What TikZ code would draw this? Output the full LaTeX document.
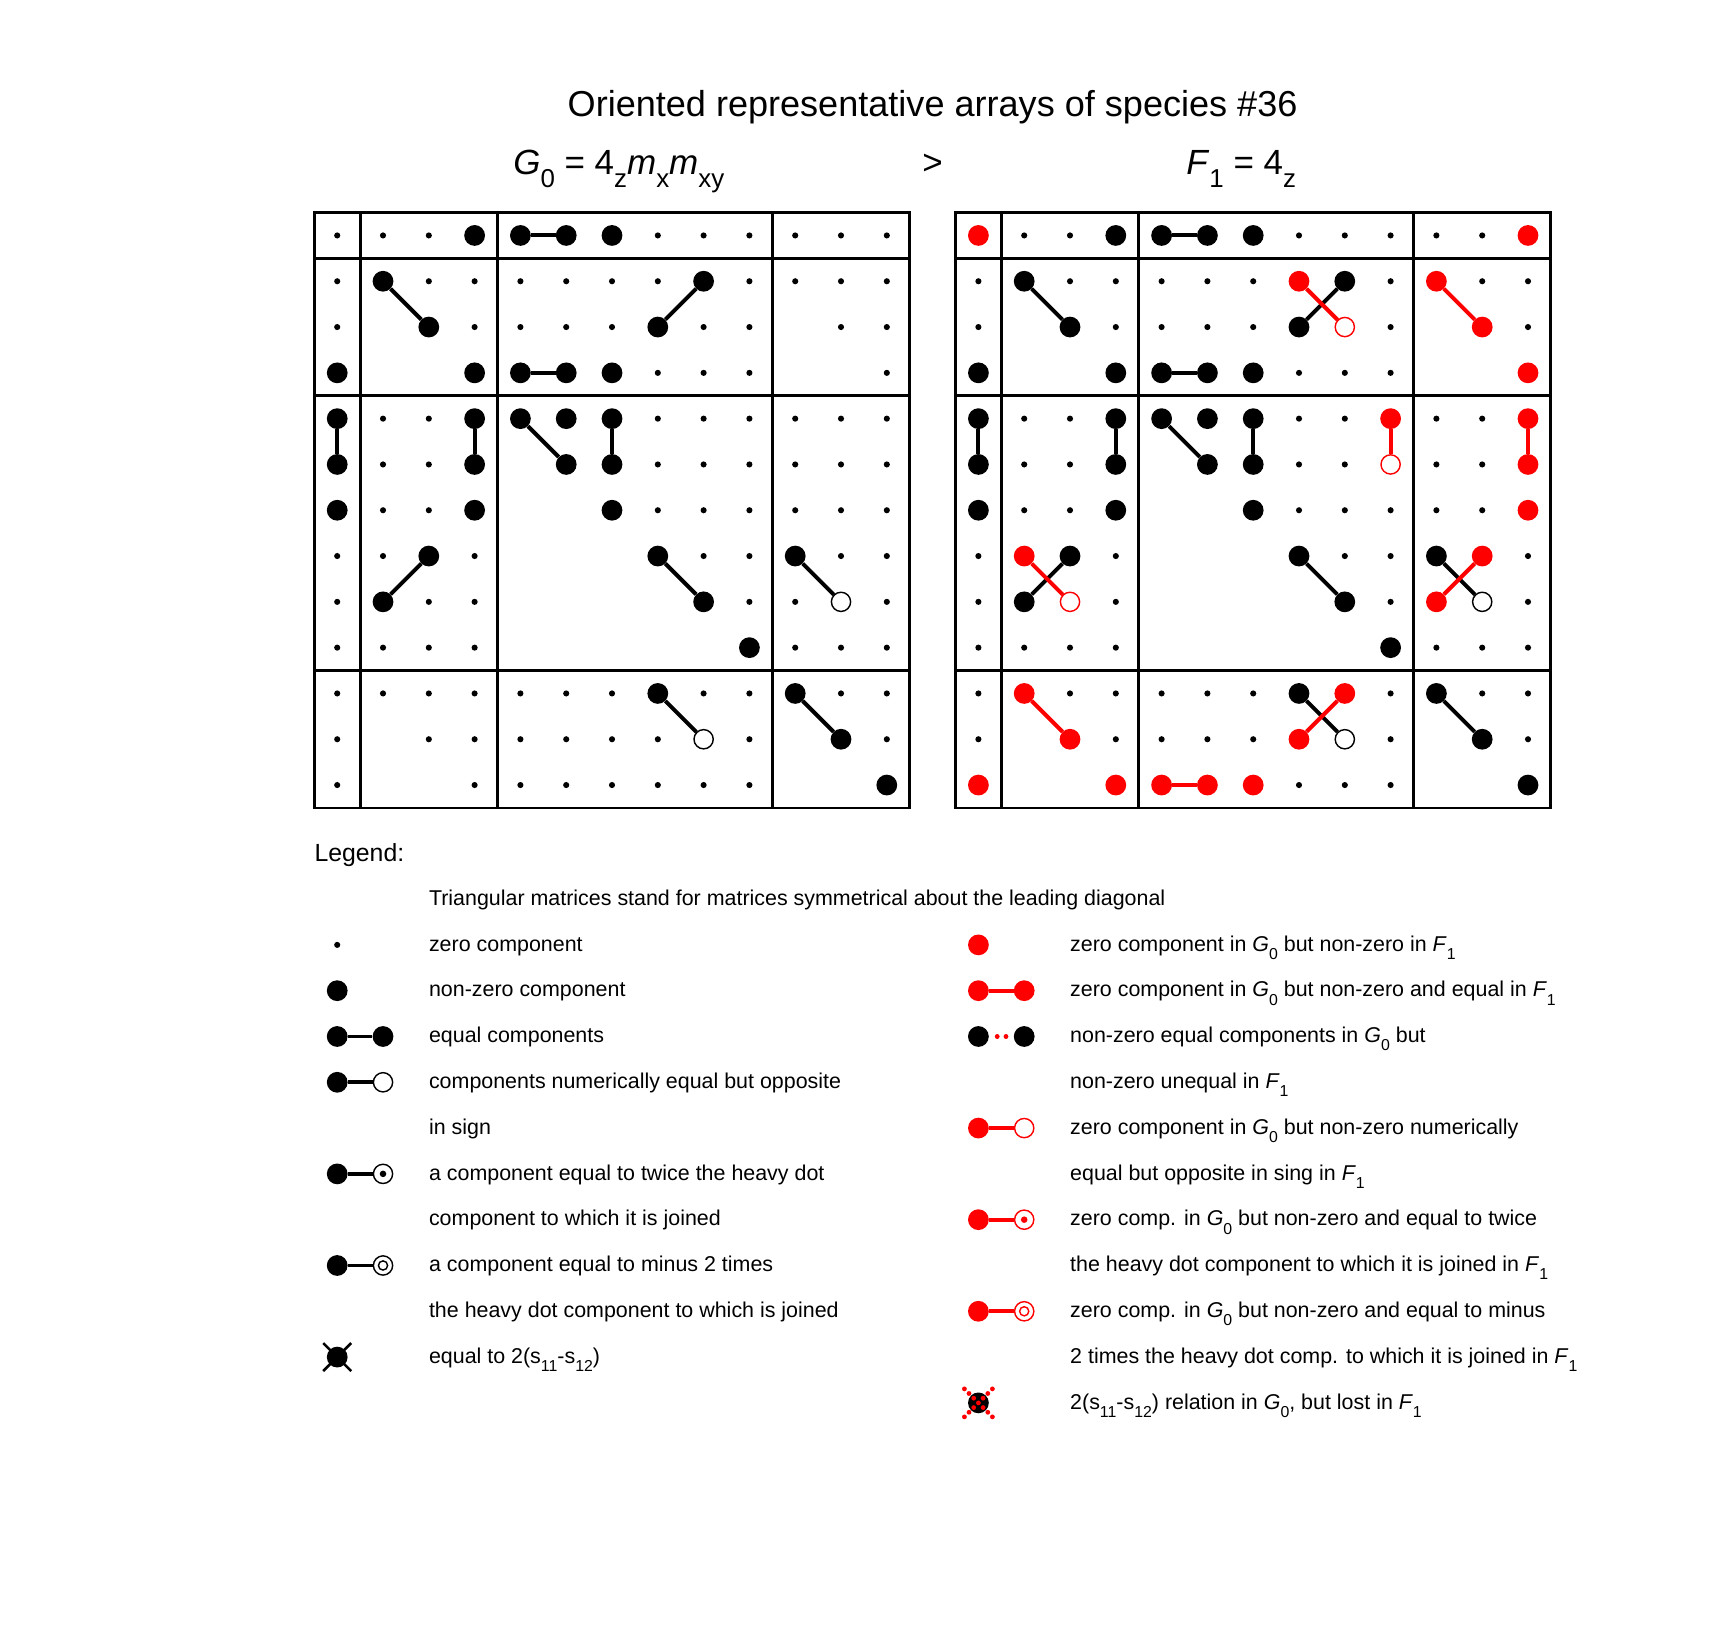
\documentclass[tikz,border=0pt]{standalone}
\usepackage{fontspec}
\setmainfont{Liberation Sans}
\usepackage{graphicx}
\usepackage{tikz}
\usetikzlibrary{calc,positioning}

\newcommand{\lsub}[2][0.38em]{\raisebox{-#1}{\scalebox{0.74}{#2}}}

\tikzset{
  zdot/.style={circle,fill=black,inner sep=0pt,minimum size=5.6pt},
  bdot/.style={circle,fill=#1,inner sep=0pt,minimum size=19pt},
  bdot/.default=black,
  odot/.style={circle,draw=#1,fill=white,line width=1.3pt,inner sep=0pt,minimum size=17.6pt},
  odot/.default=black,
  cdot/.style={circle,fill=#1,inner sep=0pt,minimum size=6pt},
  cdot/.default=black,
  idot/.style={circle,draw=#1,line width=1.3pt,inner sep=0pt,minimum size=8.4pt},
  idot/.default=black,
  link/.style={line width=3.6pt,draw=#1},
  link/.default=black,
  frame/.style={line width=2.6pt},
  bigtext/.style={inner sep=0pt,font=\fontsize{32}{38}\selectfont},
  legtext/.style={anchor=base west,inner sep=0pt,font=\fontsize{19.6}{24}\selectfont},
}

\begin{document}
\begin{tikzpicture}[x=41.9pt,y=-41.9pt]
\useasboundingbox (-7.363,-5.141) rectangle (30.083,30.348);

% headings
\node[bigtext,anchor=base,font=\fontsize{33}{40}\selectfont] (title) at (13,-2.6)
  {Oriented representative arrays of species \#36};
\node[bigtext,anchor=base west] (gname) at (3.84,-1.33)
  {\textit{G}\lsub{0} = 4\lsub{z}\textit{m}\lsub{x}\textit{m}\lsub{xy}};
\node[bigtext,anchor=base] (gt) at (13,-1.33) {>};
\node[bigtext,anchor=base east] (fname) at (20.94,-1.33)
  {\textit{F}\lsub{1} = 4\lsub{z}};

% the two arrays
\foreach \m/\dx in {G/0,F/14}{
  \draw[frame] (\dx-0.5,-0.5) rectangle (\dx+12.5,12.5);
  \foreach \t in {0.5,3.5,9.5}{
    \draw[frame] (\dx+\t,-0.5) -- (\dx+\t,12.5);
    \draw[frame] (\dx-0.5,\t) -- (\dx+12.5,\t);
  }
  % zero components
  \foreach \r/\cl in {0/{0,...,12},1/{0,...,12},2/{0,2,3,...,9,11,12},3/{0,3,4,...,9,12},
      4/{0,...,12},5/{0,1,2,3,5,6,...,12},6/{0,1,2,3,6,7,...,12},7/{0,1,2,3,7,8,...,12},
      8/{0,1,2,3,8,9,...,12},9/{0,1,2,3,9,10,11,12},10/{0,...,12},11/{0,2,3,...,9,11,12},
      12/{0,3,4,...,9,12}}{
    \foreach \c in \cl
      \node[zdot] (\m-\r-\c) at (\dx+\c,\r) {};
  }
  % non-zero components
  \foreach \p in {0-3,0-4,0-5,0-6,1-1,2-2,1-8,2-7,3-0,3-3,3-4,3-5,3-6,4-0,5-0,6-0,
      4-3,5-3,6-3,4-4,4-5,5-5,4-6,5-6,6-6,7-2,8-1,7-7,8-8,7-10,9-9,10-7,10-10,11-11,12-12}
    \node[bdot] (\m k-\p) at (\m-\p) {};
  \foreach \p in {8-11,11-8}
    \node[odot] (\m k-\p) at (\m-\p) {};
  \foreach \a/\b in {0-4/0-5,1-1/2-2,1-8/2-7,3-4/3-5,4-0/5-0,4-3/5-3,4-4/5-5,4-6/5-6,
      7-2/8-1,7-7/8-8,7-10/8-11,10-7/11-8,10-10/11-11}
    \draw[link] (\m k-\a) -- (\m k-\b);
}

% components that appear in F only
\foreach \p in {0-0,0-12,1-7,1-10,2-11,3-12,4-9,4-12,5-12,6-12,7-1,7-11,8-10,
    10-1,11-2,10-8,11-7,12-0,12-3,12-4,12-5,12-6}
  \node[bdot=red] (Fk-\p) at (F-\p) {};
\foreach \p in {2-8,5-9,8-2}
  \node[odot=red] (Fk-\p) at (F-\p) {};
\foreach \a/\b in {1-7/2-8,1-10/2-11,4-9/5-9,4-12/5-12,7-1/8-2,8-10/7-11,10-1/11-2,11-7/10-8,12-4/12-5}
  \draw[link=red] (Fk-\a) -- (Fk-\b);

% legend
\node[anchor=base west,inner sep=0pt,font=\fontsize{22.7}{27}\selectfont] (legend) at (-0.5,13.68) {Legend:};
\node[legtext] (tri) at (2,14.625)
  {Triangular matrices stand for matrices symmetrical about the leading diagonal};
\foreach \k/\txt in {1/{zero component},2/{non-zero component},3/{equal components},
    4/{components numerically equal but opposite},5/{in sign},
    6/{a component equal to twice the heavy dot},7/{component to which it is joined},
    8/{a component equal to minus 2 times},9/{the heavy dot component to which is joined},
    10/{equal to 2(s\lsub{11}-s\lsub{12})}}
  \node[legtext] (lt-\k) at (2,14.625+\k) {\txt};
\foreach \k/\txt in {1/{zero component in \textit{G}\lsub{0} but non-zero in \textit{F}\lsub{1}},
    2/{zero component in \textit{G}\lsub{0} but non-zero and equal in \textit{F}\lsub{1}},
    3/{non-zero equal components in \textit{G}\lsub{0} but},
    4/{non-zero unequal in \textit{F}\lsub{1}},
    5/{zero component in \textit{G}\lsub{0} but non-zero numerically},
    6/{equal but opposite in sing in \textit{F}\lsub{1}},
    7/{zero comp. in \textit{G}\lsub{0} but non-zero and equal to twice},
    8/{the heavy dot component to which it is joined in \textit{F}\lsub{1}},
    9/{zero comp. in \textit{G}\lsub{0} but non-zero and equal to minus},
    10/{2 times the heavy dot comp. to which it is joined in \textit{F}\lsub{1}},
    11/{2(s\lsub{11}-s\lsub{12}) relation in \textit{G}\lsub{0}, but lost in \textit{F}\lsub{1}}}
  \node[legtext] (rt-\k) at (16,14.625+\k) {\txt};

% legend symbols, left
\node[zdot] (lz) at (0,15.49) {};
\node[bdot] (lb) at (0,16.49) {};
\node[bdot] (le1) at (0,17.49) {};
\node[bdot] (le2) at (1,17.49) {};
\draw[link] (le1) -- (le2);
\node[bdot] (lo1) at (0,18.49) {};
\node[odot] (lo2) at (1,18.49) {};
\draw[link] (lo1) -- (lo2);
\node[bdot] (lt1) at (0,20.49) {};
\node[odot] (lt2) at (1,20.49) {};
\node[cdot] (lt3) at (lt2) {};
\draw[link] (lt1) -- (lt2);
\node[bdot] (lm1) at (0,22.49) {};
\node[odot] (lm2) at (1,22.49) {};
\node[idot] (lm3) at (lm2) {};
\draw[link] (lm1) -- (lm2);
\node[bdot] (lx) at (0,24.49) {};
\draw[line width=2.4pt] ($(lx)+(-12.8pt,-12.8pt)$) -- ($(lx)+(12.8pt,12.8pt)$)
  ($(lx)+(-12.8pt,12.8pt)$) -- ($(lx)+(12.8pt,-12.8pt)$);

% legend symbols, right
\node[bdot=red] (rz) at (14,15.49) {};
\node[bdot=red] (re1) at (14,16.49) {};
\node[bdot=red] (re2) at (15,16.49) {};
\draw[link=red] (re1) -- (re2);
\node[bdot] (rn1) at (14,17.49) {};
\node[bdot] (rn2) at (15,17.49) {};
\draw[red,line width=4.4pt,line cap=round,dash pattern=on 0.01pt off 7.99pt,dash phase=0.5pt] (rn1) -- (rn2);
\node[bdot=red] (ro1) at (14,19.49) {};
\node[odot=red] (ro2) at (15,19.49) {};
\draw[link=red] (ro1) -- (ro2);
\node[bdot=red] (rt1) at (14,21.49) {};
\node[odot=red] (rt2) at (15,21.49) {};
\node[cdot=red] (rt3) at (rt2) {};
\draw[link=red] (rt1) -- (rt2);
\node[bdot=red] (rm1) at (14,23.49) {};
\node[odot=red] (rm2) at (15,23.49) {};
\node[idot=red] (rm3) at (rm2) {};
\draw[link=red] (rm1) -- (rm2);
\node[bdot] (rx) at (14,25.49) {};
\foreach \u/\v in {-4.3/-4.3,4.3/-4.3,0/0,-4.3/4.3,4.3/4.3,
    -8.6/-8.6,-12.8/-12.8,8.6/-8.6,12.8/-12.8,-8.6/8.6,-12.8/12.8,8.6/8.6,12.8/12.8}
  \fill[red] ($(rx)+(\u pt,\v pt)$) circle (2.2pt);
\end{tikzpicture}
\end{document}
